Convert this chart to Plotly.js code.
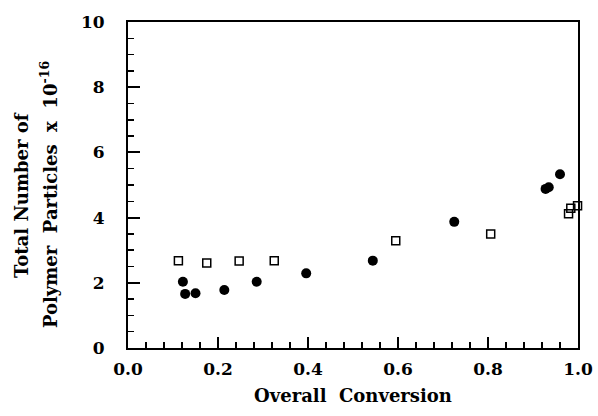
<!DOCTYPE html>
<html>
<head>
<meta charset="utf-8">
<script src="https://cdn.plot.ly/plotly-3.0.1.min.js"></script>
<style>html,body{margin:0;padding:0;background:#fff;}#chart{width:598px;height:416px;}</style>
</head>
<body>
<div id="chart"></div>
<script>
var circleX = [0.122, 0.127, 0.150, 0.214, 0.286, 0.396, 0.544, 0.725, 0.928, 0.935, 0.960];
var circleY = [2.03, 1.66, 1.68, 1.78, 2.03, 2.29, 2.68, 3.87, 4.88, 4.93, 5.33];
var squareX = [0.112, 0.175, 0.247, 0.325, 0.595, 0.806, 0.979, 0.984, 0.999];
var squareY = [2.68, 2.61, 2.67, 2.68, 3.29, 3.50, 4.12, 4.29, 4.36];
var xTickVals = [0, 0.2, 0.4, 0.6, 0.8, 1.0];
var xTickText = ['0.0', '0.2', '0.4', '0.6', '0.8', '1.0'];
var yTickVals = [0, 2, 4, 6, 8, 10];
var yTickText = ['0', '2', '4', '6', '8', '10'];

var fam = '"DejaVu Serif", "Liberation Serif", serif';

var traces = [
  {x: circleX, y: circleY, mode: 'markers', type: 'scatter',
   marker: {symbol: 'circle', size: 10, color: '#000'}, cliponaxis: false},
  {x: squareX, y: squareY, mode: 'markers', type: 'scatter',
   marker: {symbol: 'square-open', size: 8, color: '#000', line: {width: 1.5, color: '#000'}}, cliponaxis: false}
];

var layout = {
  width: 598, height: 416,
  margin: {l: 128, r: 20, t: 22, b: 68},
  paper_bgcolor: '#fff', plot_bgcolor: '#fff',
  showlegend: false,
  font: {family: fam, size: 17, color: '#000'},
  xaxis: {
    range: [0, 1], tickvals: xTickVals, ticktext: xTickText,
    ticks: 'inside', ticklen: 11, tickwidth: 2, tickcolor: '#000',
    minor: {dtick: 0.04, ticks: 'inside', ticklen: 6, tickwidth: 1.5, tickcolor: '#000', showgrid: false},
    showline: true, linewidth: 2, linecolor: '#000', mirror: true,
    showgrid: false, zeroline: false,
    tickfont: {family: fam, size: 17, color: '#000', weight: 'bold'},
    ticklabelstandoff: 5,
    title: {text: '<b>Overall  Conversion</b>', font: {family: fam, size: 18, color: '#000'}, standoff: 11}
  },
  yaxis: {
    range: [0, 10], tickvals: yTickVals, ticktext: yTickText,
    ticks: 'inside', ticklen: 12, tickwidth: 2, tickcolor: '#000',
    minor: {dtick: 0.5, ticks: 'inside', ticklen: 6, tickwidth: 1.5, tickcolor: '#000', showgrid: false},
    showline: true, linewidth: 2, linecolor: '#000', mirror: true,
    showgrid: false, zeroline: false,
    tickfont: {family: fam, size: 17, color: '#000', weight: 'bold'},
    ticklabelstandoff: 18
  },
  annotations: [
    {text: '<b>Total Number of</b>', xref: 'paper', yref: 'paper', x: -0.235, y: 0.47,
     xanchor: 'center', yanchor: 'middle', textangle: -90, showarrow: false,
     font: {family: fam, size: 18, color: '#000'}},
    {text: '<b>Polymer  Particles  x  10<sup>-16</sup></b>', xref: 'paper', yref: 'paper', x: -0.175, y: 0.47,
     xanchor: 'center', yanchor: 'middle', textangle: -90, showarrow: false,
     font: {family: fam, size: 18, color: '#000'}}
  ]
};

Plotly.newPlot('chart', traces, layout, {displayModeBar: false, staticPlot: true});
</script>
</body>
</html>
